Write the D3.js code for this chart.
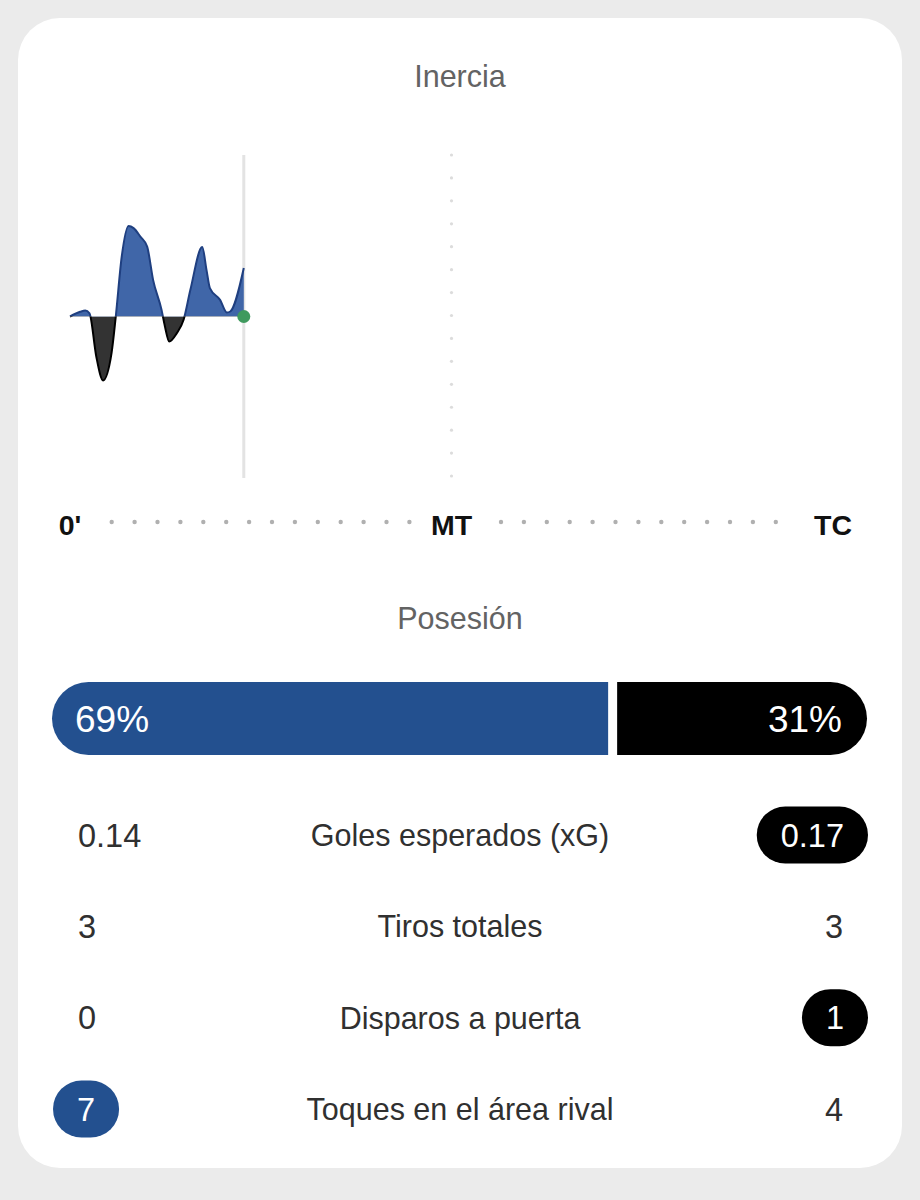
<!DOCTYPE html>
<html>
<head>
<meta charset="utf-8">
<script src="https://cdn.jsdelivr.net/npm/d3@7"></script>
<style>
  html, body { margin: 0; padding: 0; background: #ebebeb; }
  svg { display: block; }
  text { font-family: "Liberation Sans", Arial, Helvetica, sans-serif; }
</style>
</head>
<body>
<svg id="chart" width="920" height="1200"></svg>
<script>
// ---------- DATA ----------
const momentumMinutes = [0, 1.2, 1.8, 2.3, 3.1, 3.9, 4.9, 5.4, 6.1, 6.9, 7.5, 8.3, 9.1, 9.8, 10.8, 11.2, 11.7, 12.6, 13.4, 14.2, 15.6, 16.1, 16.5, 17.7, 18.5, 18.9, 20.5];
const momentumValues  = [0, 2.9, 3.7, 2, -24.8, -39.6, -22.7, 0, 37, 56, 54.7, 49.5, 43.3, 22.7, 4.1, -6.2, -15.5, -10.3, -2, 16.5, 43, 28.9, 17.6, 10.3, 2.5, 3.1, 30];
const currentMinute = 20.5;
const timeTickMinutes = [0, 45, 90];
const timeTickLabels = ["0'", "MT", "TC"];

const possessionTeams = ["home", "away"];
const possessionValues = [69, 31];

const statLabels = ["Goles esperados (xG)", "Tiros totales", "Disparos a puerta", "Toques en el área rival"];
const homeStats = ["0.14", "3", "0", "7"];
const awayStats = ["0.17", "3", "1", "4"];

const titleMomentum = "Inercia";
const titlePossession = "Posesión";

// ---------- STYLE ----------
const BLUE = "#23508f";
const BLUE_FILL = "#4066a8";
const BLUE_STROKE = "#1f3f80";
const DARK_FILL = "#333333";
const TEXT = "#303030";
const GREY_TITLE = "#636363";

const svg = d3.select("#chart");

// card
svg.append("rect").attr("x", 18).attr("y", 18).attr("width", 884).attr("height", 1150)
  .attr("rx", 42).attr("fill", "#ffffff");

// ---------- MOMENTUM ----------
svg.append("text").attr("x", 460).attr("y", 87).attr("text-anchor", "middle")
  .attr("font-size", 30.5).attr("fill", GREY_TITLE).text(titleMomentum);

const x = d3.scaleLinear().domain([0, 90]).range([70, 833]);
const y = d3.scaleLinear().domain([-100, 100]).range([478, 155]);
const base = y(0);

// dotted half-time vertical line
const vDots = d3.range(15).map(i => 155 + i * 22.93);
svg.append("g").selectAll("circle").data(vDots).join("circle")
  .attr("cx", x(45)).attr("cy", d => d).attr("r", 1.6).attr("fill", "#dcdcdc");

// current-time line
svg.append("line").attr("x1", x(currentMinute)).attr("x2", x(currentMinute))
  .attr("y1", 155).attr("y2", 478).attr("stroke", "#e3e3e3").attr("stroke-width", 3);

const pts = momentumMinutes.map((m, i) => [m, momentumValues[i]]);
const area = d3.area().x(d => x(d[0])).y0(base).y1(d => y(d[1])).curve(d3.curveMonotoneX);
const line = d3.line().x(d => x(d[0])).y(d => y(d[1])).curve(d3.curveMonotoneX);

const defs = svg.append("defs");
defs.append("clipPath").attr("id", "clipTop").append("rect")
  .attr("x", 0).attr("y", 0).attr("width", 920).attr("height", base);
defs.append("clipPath").attr("id", "clipBot").append("rect")
  .attr("x", 0).attr("y", base).attr("width", 920).attr("height", 1200 - base);

const gm = svg.append("g");
gm.append("path").datum(pts).attr("d", area).attr("fill", BLUE_FILL).attr("clip-path", "url(#clipTop)");
gm.append("path").datum(pts).attr("d", line).attr("fill", "none").attr("stroke", BLUE_STROKE)
  .attr("stroke-width", 2).attr("clip-path", "url(#clipTop)");
gm.append("path").datum(pts).attr("d", area).attr("fill", DARK_FILL).attr("clip-path", "url(#clipBot)");
gm.append("path").datum(pts).attr("d", line).attr("fill", "none").attr("stroke", "#000")
  .attr("stroke-width", 2).attr("clip-path", "url(#clipBot)");

svg.append("circle").attr("cx", x(currentMinute)).attr("cy", base).attr("r", 6.5).attr("fill", "#3f9a5e");

// time axis labels
svg.append("g").selectAll("text").data(timeTickMinutes).join("text")
  .attr("x", d => x(d)).attr("y", 535).attr("text-anchor", "middle")
  .attr("font-size", 28.5).attr("font-weight", "bold").attr("fill", "#111")
  .text((d, i) => timeTickLabels[i]);

// dotted time axis
const hDots = d3.range(14).map(i => 111.7 + i * 22.9).concat(d3.range(13).map(i => 501 + i * 22.9));
svg.append("g").selectAll("circle").data(hDots).join("circle")
  .attr("cx", d => d).attr("cy", 522).attr("r", 2.2).attr("fill", "#b0b0b0");

// ---------- POSSESSION ----------
svg.append("text").attr("x", 460).attr("y", 629).attr("text-anchor", "middle")
  .attr("font-size", 30.5).attr("fill", GREY_TITLE).text(titlePossession);

const barX0 = 52, barX1 = 867, gap = 9, barY0 = 682, barY1 = 755;
const px = d3.scaleLinear().domain([0, 100]).range([0, barX1 - barX0 - gap]);
const r = (barY1 - barY0) / 2;
const wHome = px(possessionValues[0]);
const homeEnd = barX0 + wHome;
const awayStart = homeEnd + gap;

svg.append("path").attr("fill", BLUE)
  .attr("d", `M${barX0 + r},${barY0} H${homeEnd} V${barY1} H${barX0 + r} A${r},${r} 0 0 1 ${barX0 + r},${barY0} Z`);
svg.append("path").attr("fill", "#000")
  .attr("d", `M${awayStart},${barY0} H${barX1 - r} A${r},${r} 0 0 1 ${barX1 - r},${barY1} H${awayStart} Z`);

svg.append("text").attr("x", 75).attr("y", (barY0 + barY1) / 2).attr("dy", "0.36em")
  .attr("font-size", 37).attr("fill", "#fff").text(possessionValues[0] + "%");
svg.append("text").attr("x", 842).attr("y", (barY0 + barY1) / 2).attr("dy", "0.36em")
  .attr("text-anchor", "end").attr("font-size", 37).attr("fill", "#fff").text(possessionValues[1] + "%");

// ---------- STATS ----------
const rowY = d3.scalePoint().domain(statLabels).range([835, 1109]);
const valSize = 32.5;
const pillH = 57, pillMinW = 62, pillPad = 24;

statLabels.forEach((label, i) => {
  const cy = rowY(label);
  const h = parseFloat(homeStats[i]), a = parseFloat(awayStats[i]);
  const g = svg.append("g");
  g.append("text").attr("x", 460).attr("y", cy).attr("dy", "0.36em").attr("text-anchor", "middle")
    .attr("font-size", 30.5).attr("fill", TEXT).text(label);

  // home
  if (h > a) {
    const t = g.append("text").attr("font-size", valSize).attr("fill", "#fff").text(homeStats[i]);
    const w = Math.max(pillMinW, t.node().getComputedTextLength() + 2 * pillPad);
    g.insert("rect", "text").attr("x", 53).attr("y", cy - pillH / 2).attr("width", w).attr("height", pillH)
      .attr("rx", pillH / 2).attr("fill", BLUE);
    t.attr("x", 53 + w / 2).attr("y", cy).attr("dy", "0.36em").attr("text-anchor", "middle");
  } else {
    g.append("text").attr("x", 78).attr("y", cy).attr("dy", "0.36em")
      .attr("font-size", valSize).attr("fill", TEXT).text(homeStats[i]);
  }
  // away
  if (a > h) {
    const t = g.append("text").attr("font-size", valSize).attr("fill", "#fff").text(awayStats[i]);
    const w = Math.max(pillMinW, t.node().getComputedTextLength() + 2 * pillPad);
    g.insert("rect", "text").attr("x", 868 - w).attr("y", cy - pillH / 2).attr("width", w).attr("height", pillH)
      .attr("rx", pillH / 2).attr("fill", "#000");
    t.attr("x", 868 - w / 2).attr("y", cy).attr("dy", "0.36em").attr("text-anchor", "middle");
  } else {
    g.append("text").attr("x", 843).attr("y", cy).attr("dy", "0.36em").attr("text-anchor", "end")
      .attr("font-size", valSize).attr("fill", TEXT).text(awayStats[i]);
  }
});
</script>
</body>
</html>
